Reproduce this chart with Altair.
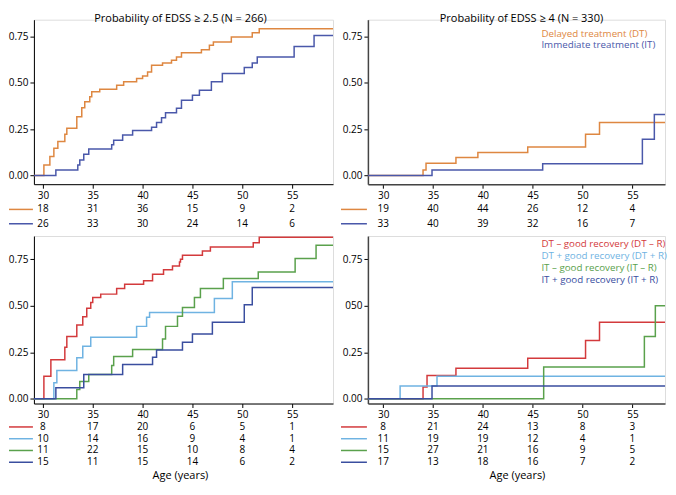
import altair as alt
import pandas as pd

FONT = "Open Sans"
W_L = 300
W_R = 298
H_TOP = 165
H_BOT = 168
X_DOM_L = [29.1, 59.1]
X_DOM_R = [28.47, 58.27]
Y_DOM_TOP = [-0.047, 0.84]
Y_DOM_BOT = [-0.026, 0.875]
TICKS = [30, 35, 40, 45, 50, 55]

# ---------------- data ----------------
# Panel A: EDSS >= 2.5
a_dt_age = [28.47, 30.1, 30.7, 31.1, 31.5, 32.2, 32.4, 33.4, 33.9, 34.2, 34.7, 34.9, 35.7, 37.4, 38.1,
            39.4, 40.0, 40.5, 40.9, 42.0, 42.9, 43.4, 43.9, 45.9, 46.7, 47.1, 48.9, 51.0, 51.7, 59.1]
a_dt_p = [0, 0.057, 0.102, 0.147, 0.183, 0.222, 0.254, 0.317, 0.365, 0.397, 0.424, 0.451, 0.465, 0.487, 0.505,
          0.523, 0.537, 0.558, 0.594, 0.607, 0.621, 0.639, 0.662, 0.678, 0.702, 0.720, 0.746, 0.770, 0.791, 0.791]
a_it_age = [28.47, 31.3, 33.5, 33.7, 34.1, 34.6, 36.9, 37.1, 38.0, 39.0, 40.9, 41.4, 41.9, 42.3, 43.4,
            43.9, 45.0, 45.7, 46.9, 48.0, 50.2, 51.0, 51.5, 55.2, 57.2, 59.1]
a_it_p = [0, 0.03, 0.057, 0.084, 0.115, 0.143, 0.165, 0.19, 0.218, 0.242, 0.26, 0.285, 0.311, 0.338, 0.362,
          0.406, 0.433, 0.46, 0.505, 0.55, 0.582, 0.607, 0.639, 0.696, 0.755, 0.755]

# Panel B: EDSS >= 4
b_dt_age = [28.47, 34.0, 34.3, 37.3, 39.5, 44.5, 50.3, 51.7, 59.1]
b_dt_p = [0, 0.03, 0.066, 0.097, 0.124, 0.154, 0.222, 0.286, 0.286]
b_it_age = [28.47, 34.9, 46.0, 56.0, 57.2, 59.1]
b_it_p = [0, 0.03, 0.063, 0.195, 0.329, 0.329]

# Panel C: EDSS >= 2.5 by recovery
c_dtr_age = [28.47, 30.1, 30.8, 32.2, 32.4, 33.4, 34.0, 34.4, 34.8, 35.0, 35.8, 37.4, 38.2, 40.1, 41.0,
             42.1, 43.0, 43.7, 43.8, 44.0, 46.0, 46.8, 51.1, 51.7, 59.1]
c_dtr_p = [0, 0.121, 0.21, 0.277, 0.334, 0.396, 0.441, 0.486, 0.518, 0.545, 0.5625, 0.593, 0.616, 0.634, 0.67,
           0.693, 0.714, 0.735, 0.75, 0.771, 0.794, 0.816, 0.839, 0.869, 0.869]
c_dtp_age = [28.47, 31.1, 31.4, 33.4, 34.0, 34.8, 39.4, 40.4, 40.7, 47.2, 49.0, 59.1]
c_dtp_p = [0, 0.086, 0.152, 0.22, 0.282, 0.33, 0.389, 0.4375, 0.464, 0.539, 0.629, 0.629]
c_itr_age = [28.47, 33.4, 33.7, 34.6, 36.9, 37.1, 39.0, 42.0, 42.3, 43.5, 44.0, 45.2, 45.8, 48.1, 51.6,
             55.3, 57.4, 59.1]
c_itr_p = [0, 0.05, 0.093, 0.13, 0.179, 0.227, 0.264, 0.321, 0.389, 0.443, 0.491, 0.545, 0.593, 0.646, 0.682,
           0.754, 0.825, 0.825]
c_itp_age = [28.47, 31.3, 34.1, 38.0, 41.0, 41.4, 44.0, 45.0, 47.0, 50.2, 51.0, 59.1]
c_itp_p = [0, 0.059, 0.13, 0.184, 0.223, 0.2625, 0.304, 0.348, 0.411, 0.505, 0.598, 0.598]

# Panel D: EDSS >= 4 by recovery
d_dtr_age = [28.47, 34.0, 34.4, 37.3, 44.5, 50.3, 51.7, 59.1]
d_dtr_p = [0, 0.0625, 0.125, 0.164, 0.218, 0.3125, 0.411, 0.411]
d_dtp_age = [28.47, 31.7, 35.4, 59.1]
d_dtp_p = [0, 0.068, 0.121, 0.121]
d_itr_age = [28.47, 46.1, 56.2, 57.3, 59.1]
d_itr_p = [0, 0.17, 0.334, 0.5, 0.5]
d_itp_age = [28.47, 34.9, 59.1]
d_itp_p = [0, 0.068, 0.068]

# numbers at risk
a_risk = [[18, 31, 36, 15, 9, 2], [26, 33, 30, 24, 14, 6]]
b_risk = [[19, 40, 44, 26, 12, 4], [33, 40, 39, 32, 16, 7]]
c_risk = [[8, 17, 20, 6, 5, 1], [10, 14, 16, 9, 4, 1], [11, 22, 15, 10, 8, 4], [15, 11, 15, 14, 6, 2]]
d_risk = [[8, 21, 24, 13, 8, 3], [11, 19, 19, 12, 4, 1], [15, 27, 21, 16, 9, 5], [17, 13, 18, 16, 7, 2]]

names_2 = ["Delayed treatment (DT)", "Immediate treatment (IT)"]
names_4 = ["DT \u2013 good recovery (DT \u2013 R)", "DT + good recovery (DT + R)",
           "IT \u2013 good recovery (IT \u2013 R)", "IT + good recovery (IT + R)"]
colors_2 = ["#DE8741", "#4A58AA"]
colors_4 = ["#D33A3C", "#6FB3E2", "#5AA14C", "#3A4E9F"]

titles = ["Probability of EDSS \u2265 2.5 (N = 266)", "Probability of EDSS \u2265 4 (N = 330)"]
x_title = "Age (years)"


def series_df(ages_list, p_list, names):
    rows = []
    for k, (ag, pp, nm) in enumerate(zip(ages_list, p_list, names)):
        for a, p in zip(ag, pp):
            rows.append({"age": a, "p": p, "group": nm, "k": k})
    return pd.DataFrame(rows)


def panel(ages_list, p_list, names, colors, risk, width, height, xdom, ydom, center_x,
          title=None, legend=False, bottom_title_y=None, label_expr=None, axis_color="black",
          axis_width=1.0, row_y=None, legend_y=None, marker_x=-25, anchor_top=False, anchor_bottom=None):
    df = series_df(ages_list, p_list, names)
    x_axis = alt.Axis(values=TICKS, title=None, grid=False, domainColor=axis_color,
                      domainWidth=axis_width, tickColor="black", labelColor="black",
                      labelFont=FONT, labelFontSize=10, tickSize=4, labelPadding=2,
                      labelFlush=False)
    y_kw = dict(values=[0, 0.25, 0.5, 0.75], title=None, grid=False, domainColor=axis_color,
                domainWidth=axis_width, tickColor="black", labelColor="black",
                labelFont=FONT, labelFontSize=10, tickSize=4, labelPadding=2, format=".2f",
                labelFlush=False)
    if label_expr:
        y_kw["labelExpr"] = label_expr
    lines = alt.Chart(df).mark_line(interpolate="step-after", strokeWidth=1.5, clip=True).encode(
        x=alt.X("age:Q", scale=alt.Scale(domain=xdom, nice=False, zero=False), axis=x_axis),
        y=alt.Y("p:Q", scale=alt.Scale(domain=ydom, nice=False, zero=False), axis=alt.Axis(**y_kw)),
        color=alt.Color("group:N", scale=alt.Scale(domain=names, range=colors), legend=None),
        detail="k:N",
    )
    layers = [lines]
    if title:
        layers.append(alt.Chart(pd.DataFrame({"t": [title]})).mark_text(
            font=FONT, fontSize=11, color="black", baseline="alphabetic", align="center").encode(
            text="t:N", x=alt.value(center_x), y=alt.value(2)))
    if legend:
        for i, (nm, c) in enumerate(zip(names, colors)):
            layers.append(alt.Chart(pd.DataFrame({"t": [nm]})).mark_text(
                font=FONT, fontSize=9.8, align="left", baseline="middle", color=c).encode(
                text="t:N", x=alt.value(174), y=alt.value(legend_y[i])))
    for i, (vals, c) in enumerate(zip(risk, colors)):
        tdf = pd.DataFrame({"age": TICKS, "n": vals})
        layers.append(alt.Chart(tdf).mark_text(
            font=FONT, fontSize=10, color="black", baseline="middle", align="center").encode(
            x=alt.X("age:Q"), text="n:N", y=alt.value(row_y[i])))
        layers.append(alt.Chart(pd.DataFrame({"g": [names[i]]})).mark_rule(
            color=c, strokeWidth=1.5).encode(
            x=alt.value(marker_x), x2=alt.value(-1), y=alt.value(row_y[i])))
    if bottom_title_y is not None:
        layers.append(alt.Chart(pd.DataFrame({"t": [x_title]})).mark_text(
            font=FONT, fontSize=11, color="black", baseline="middle", align="center").encode(
            text="t:N", x=alt.value(center_x), y=alt.value(bottom_title_y)))
    if anchor_top:
        layers.append(alt.Chart(pd.DataFrame({"a": [0]})).mark_rule(opacity=0, strokeWidth=0).encode(
            x=alt.value(-40), x2=alt.value(-40), y=alt.value(-30), y2=alt.value(-30)))
    if anchor_bottom is not None:
        layers.append(alt.Chart(pd.DataFrame({"a": [0]})).mark_rule(opacity=0, strokeWidth=0).encode(
            x=alt.value(0), x2=alt.value(0), y=alt.value(anchor_bottom), y2=alt.value(anchor_bottom)))
    return alt.layer(*layers).properties(width=width, height=height)


top_rows = [190.3, 204.7]
bot_rows = [191.5, 203.3, 215.1, 226.9]

tl = panel([a_dt_age, a_it_age], [a_dt_p, a_it_p], names_2, colors_2, a_risk, W_L, H_TOP, X_DOM_L, Y_DOM_TOP,
           147, title=titles[0], row_y=top_rows, anchor_top=True)
tr = panel([b_dt_age, b_it_age], [b_dt_p, b_it_p], names_2, colors_2, b_risk, W_R, H_TOP, X_DOM_R, Y_DOM_TOP,
           154, title=titles[1], legend=True, legend_y=[14, 25.6], row_y=top_rows, marker_x=-27,
           axis_color="#444444", axis_width=1.5)
bl = panel([c_dtr_age, c_dtp_age, c_itr_age, c_itp_age], [c_dtr_p, c_dtp_p, c_itr_p, c_itp_p],
           names_4, colors_4, c_risk, W_L, H_BOT, X_DOM_L, Y_DOM_BOT, 147, bottom_title_y=241,
           row_y=bot_rows, anchor_bottom=248)
br = panel([d_dtr_age, d_dtp_age, d_itr_age, d_itp_age], [d_dtr_p, d_dtp_p, d_itr_p, d_itp_p],
           names_4, colors_4, d_risk, W_R, H_BOT, X_DOM_R, Y_DOM_BOT, 150, bottom_title_y=241,
           row_y=bot_rows, legend=True, legend_y=[8, 20, 32, 44], marker_x=-27,
           label_expr="datum.value == 0.5 ? '050' : format(datum.value, '.2f')",
           axis_color="#444444", axis_width=1.5)

chart = alt.concat(tl, tr, bl, br, columns=2, spacing={"row": 52, "column": 35},
                   bounds="flush", align="each").resolve_scale(color="independent").properties(
    padding={"left": -15, "top": -20, "right": 0, "bottom": 0}
).configure_view(stroke=None).configure(background="white")

chart.save("out.html", embed_options={"renderer": "svg", "actions": False})
